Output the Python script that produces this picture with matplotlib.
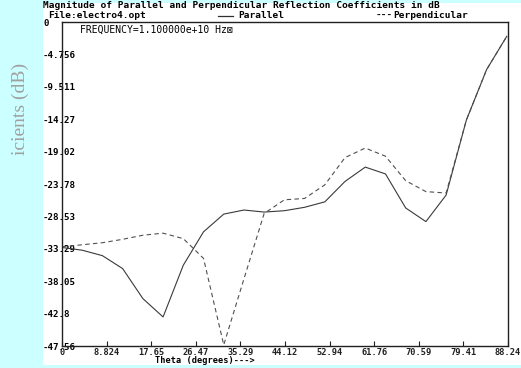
import matplotlib
matplotlib.use("Agg")
import matplotlib.pyplot as plt
from matplotlib.patches import Rectangle
from matplotlib.lines import Line2D

# ---- data ----
theta = [0, 4, 8, 12, 16, 20, 24, 28, 32, 36, 40, 44, 48, 52, 56, 60, 64, 68, 72, 76, 80, 84, 88]
parallel = [-33.1, -33.5, -34.3, -36.2, -40.6, -43.3, -35.7, -30.8, -28.2, -27.6, -27.9, -27.7,
            -27.2, -26.4, -23.4, -21.3, -22.3, -27.3, -29.3, -25.4, -14.4, -7.0, -2.1]
perpendicular = [-33.0, -32.7, -32.4, -31.9, -31.3, -31.0, -31.8, -34.7, -47.4, -37.7, -28.1, -26.1,
                 -25.9, -23.9, -19.9, -18.5, -19.7, -23.3, -24.9, -25.1, -14.4, -7.0, -2.1]
xtick_vals = [0, 8.824, 17.65, 26.47, 35.29, 44.12, 52.94, 61.76, 70.59, 79.41, 88.24]
xtick_labels = ['0', '8.824', '17.65', '26.47', '35.29', '44.12', '52.94', '61.76', '70.59', '79.41', '88.24']
ytick_vals = [0, -4.756, -9.511, -14.27, -19.02, -23.78, -28.53, -33.29, -38.05, -42.8, -47.56]
ytick_labels = ['0', '-4.756', '-9.511', '-14.27', '-19.02', '-23.78', '-28.53', '-33.29', '-38.05', '-42.8', '-47.56']

W, H = 521, 368
def fx(x): return x / W
def fy(y): return 1 - y / H

FAM = ['DejaVu Sans Mono', 'DejaVu Sans']
mono = dict(family=FAM, fontweight='bold', fontsize=6.8)
mono_s = dict(family=FAM, fontweight='bold', fontsize=6.6)
mono_x = dict(family=FAM, fontweight='bold', fontsize=6.2)

fig = plt.figure(figsize=(W / 100, H / 100), dpi=100)
fig.patch.set_facecolor('#ccffff')
fig.patches.append(Rectangle((fx(43), fy(365)), fx(521) - fx(43), fy(3) - fy(365),
                             transform=fig.transFigure, facecolor='white', edgecolor='none', zorder=-10))

ax = fig.add_axes([fx(62), fy(346), fx(508) - fx(62), fy(22) - fy(346)])
ax.set_zorder(2)
ax.set_facecolor('white')
ax.plot(theta, parallel, color='#3a3a3a', lw=0.8, solid_joinstyle='miter')
ax.plot(theta, perpendicular, color='#505050', lw=0.8, linestyle=(0, (4, 3)))
ax.set_xlim(0, 88.24)
ax.set_ylim(-47.56, 0)
for s in ax.spines.values():
    s.set_linewidth(1.0)
    s.set_color('#202020')

ax.set_xticks(xtick_vals)
ax.set_xticklabels(xtick_labels, **mono_x)
ax.tick_params(axis='x', direction='in', length=3.5, width=0.8, pad=1.5, colors='#202020')
ax.set_yticks(ytick_vals)
ax.set_yticklabels(ytick_labels, **mono_s)
ax.tick_params(axis='y', length=0, pad=(62 - 43) * 0.72)
for lbl in ax.get_yticklabels():
    lbl.set_horizontalalignment('left')
    lbl.set_verticalalignment('center_baseline')
    lbl.set_zorder(5)

ax.text(0.04, 0.975, 'FREQUENCY=1.100000e+10 Hz\u22a0', transform=ax.transAxes, va='center', ha='left',
        family=FAM, fontsize=7)

fig.text(fx(43), fy(6), 'Magnitude of Parallel and Perpendicular Reflection Coefficients in dB',
         va='center', ha='left', **mono)
fig.text(fx(48), fy(15.5), 'File:electro4.opt', va='center', ha='left', **mono)
fig.lines.append(Line2D([fx(218), fx(233)], [fy(15.5), fy(15.5)], transform=fig.transFigure,
                        color='#303030', lw=0.9))
fig.text(fx(238), fy(15.5), 'Parallel', va='center', ha='left', **mono)
fig.text(fx(376), fy(15.5), '---', va='center', ha='left', **mono)
fig.text(fx(393), fy(15.5), 'Perpendicular', va='center', ha='left', **mono)

fig.text(fx(155), fy(360.5), 'Theta (degrees)--->', va='center', ha='left', **mono_x)

fig.text(fx(20), fy(109), 'icients (dB)', rotation=90, va='center', ha='center',
         family='Liberation Serif', fontsize=14, color='#a0a0a0')

fig.savefig('out.png', dpi=100, facecolor=fig.get_facecolor())
